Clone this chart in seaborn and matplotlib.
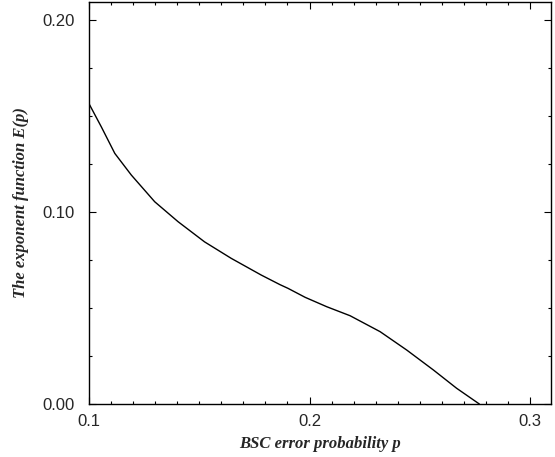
import matplotlib
matplotlib.use("Agg")
import matplotlib.pyplot as plt
import seaborn as sns
import pandas as pd
from matplotlib.ticker import MultipleLocator

# values
p_values = [0.100, 0.1056, 0.1117, 0.1192, 0.1298, 0.1404, 0.1524, 0.1645,
            0.1781, 0.1866, 0.1902, 0.198, 0.2078, 0.2184, 0.232, 0.2441,
            0.2562, 0.2667, 0.277]
exponent = [0.1565, 0.1444, 0.1306, 0.1193, 0.1054, 0.0950, 0.0845, 0.0759,
            0.0672, 0.0622, 0.0603, 0.0556, 0.0507, 0.0460, 0.0377, 0.0281,
            0.0177, 0.0082, 0.0]

x_ticks = [0.1, 0.2, 0.3]
x_tick_labels = ["0.1", "0.2", "0.3"]
y_ticks = [0.0, 0.1, 0.2]
y_tick_labels = ["0.00", "0.10", "0.20"]

df = pd.DataFrame({"p": p_values, "E": exponent})

sns.set_style("ticks")
plt.rcParams['font.family'] = ['Liberation Sans', 'DejaVu Sans']

fig = plt.figure(figsize=(5.55, 4.57), dpi=100)
ax = fig.add_axes([89 / 555, 53 / 457, 462 / 555, 402 / 457])

sns.lineplot(data=df, x="p", y="E", color="black", linewidth=1.0, ax=ax)

ax.set_xlim(0.1, 0.3095)
ax.set_ylim(0.0, 0.2095)
ax.set_xticks(x_ticks)
ax.set_xticklabels(x_tick_labels)
ax.set_yticks(y_ticks)
ax.set_yticklabels(y_tick_labels)
ax.xaxis.set_minor_locator(MultipleLocator(0.01))
ax.yaxis.set_minor_locator(MultipleLocator(0.025))
ax.tick_params(which="both", direction="in", top=True, right=True,
               labelsize=12, color="black", width=0.8)
ax.tick_params(which="major", length=5)
ax.tick_params(axis="y", which="major", pad=10)
ax.tick_params(axis="x", which="major", pad=7)
ax.tick_params(which="minor", length=2.5)
for s in ax.spines.values():
    s.set_linewidth(1.0)
    s.set_color("black")

label_font = dict(family="Liberation Serif", style="italic", weight="bold", size=12)
ax.set_xlabel("BSC error probability p", fontdict=label_font, labelpad=5)
ax.set_ylabel("The exponent function E(p)", fontdict=label_font, labelpad=10)

fig.savefig("out.png", dpi=100)
